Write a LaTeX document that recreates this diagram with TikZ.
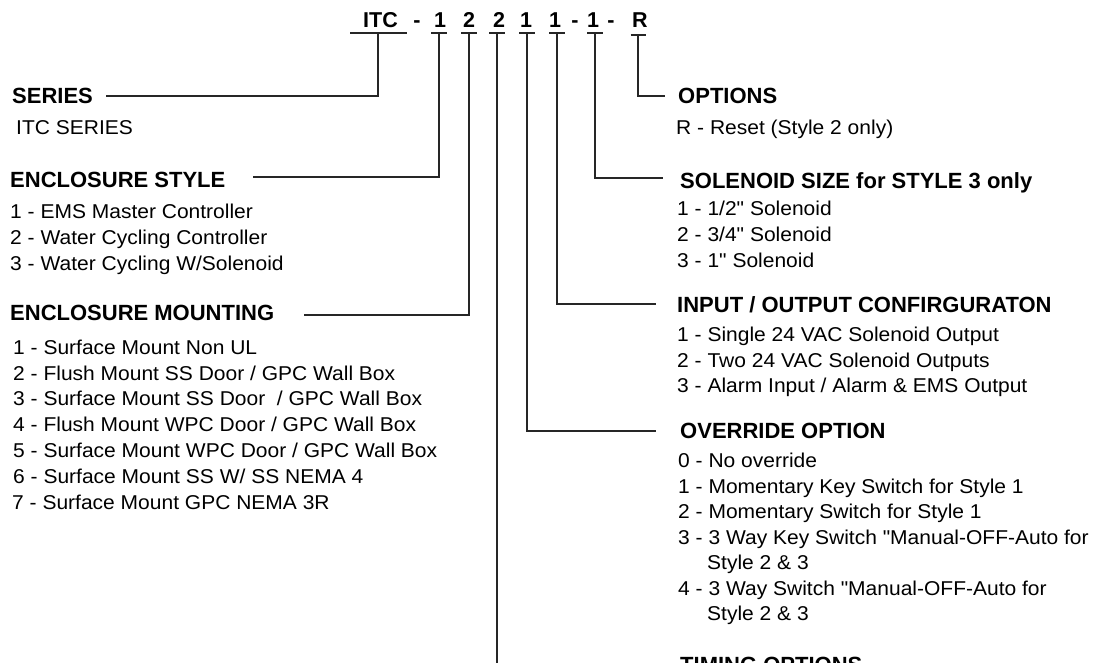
\documentclass[tikz,border=0pt]{standalone}
\usepackage{fontspec}
\setmainfont{Liberation Sans}
\newfontfamily\itemfont[FakeStretch=1.05]{Liberation Sans}
\begin{document}
\begin{tikzpicture}[x=1pt,y=-1pt,
  hdr/.style={anchor=base west, inner sep=0pt, font=\fontsize{22}{26}\selectfont\bfseries},
  itm/.style={anchor=base west, inner sep=0pt, font=\itemfont\fontsize{20}{24}\selectfont},
  code/.style={anchor=base, inner sep=0pt, font=\fontsize{21.5}{26}\selectfont\bfseries},
  conn/.style={line width=1.3pt, draw=black!85},
  bar/.style={line width=1.3pt, draw=black!85}]
\useasboundingbox (0,0) rectangle (1094,662);
\clip (0,0) rectangle (1094,662);

% code line
\node[code] (cITC) at (380.5,27) {ITC};
\node[code] (cd1) at (417,27) {-};
\node[code] (c1) at (440,27) {1};
\node[code] (c2) at (469,27) {2};
\node[code] (c3) at (499,27) {2};
\node[code] (c4) at (526,27) {1};
\node[code] (c5) at (555,27) {1};
\node[code] (cd2) at (575,27) {-};
\node[code] (c6) at (593,27) {1};
\node[code] (cd3) at (611,27) {-};
\node[code] (cR) at (640,27) {R};

% underline anchors
\coordinate (uITC) at (378,33);
\coordinate (u1) at (439,33);
\coordinate (u2) at (469,33);
\coordinate (u3) at (497,33);
\coordinate (u4) at (527,33);
\coordinate (u5) at (557,33);
\coordinate (u6) at (595,33);
\coordinate (uR) at (638,35);

\draw[bar] ([xshift=-28]uITC) -- ([xshift=29]uITC);
\foreach \u in {u1,u2,u3,u4,u5,u6}{
  \draw[bar] ([xshift=-8]\u) -- ([xshift=8]\u);
}
\draw[bar] ([xshift=-7.5]uR) -- ([xshift=7.5]uR);

% connector ends
\coordinate (eSeries) at (106,96);
\coordinate (eStyle) at (253,177);
\coordinate (eMount) at (304,315);
\coordinate (eOpt) at (665,96);
\coordinate (eSol) at (663,178);
\coordinate (eIO) at (656,304);
\coordinate (eOvr) at (656,431);
\coordinate (eTim) at (656,665);

\draw[conn] (uITC) |- (eSeries);
\draw[conn] (u1) |- (eStyle);
\draw[conn] (u2) |- (eMount);
\draw[conn] (u3) |- (eTim);
\draw[conn] (u4) |- (eOvr);
\draw[conn] (u5) |- (eIO);
\draw[conn] (u6) |- (eSol);
\draw[conn] (uR) |- (eOpt);

% left column
\node[hdr] (hSeries) at (12,103) {SERIES};
\node[itm] (iSeries) at (16,134.2) {ITC SERIES};

\node[hdr] (hStyle) at (10,187.9) {ENCLOSURE STYLE};
\node[itm] (s1) at (10,218.2) {1 - EMS Master Controller};
\node[itm] (s2) at (10,244.7) {2 - Water Cycling Controller};
\node[itm] (s3) at (10,270.2) {3 - Water Cycling W/Solenoid};

\node[hdr] (hMount) at (10,320.9) {ENCLOSURE MOUNTING};
\node[itm] (m1) at (13,354.2) {1 - Surface Mount Non UL};
\node[itm] (m2) at (13,380.0) {2 - Flush Mount SS Door / GPC Wall Box};
\node[itm] (m3) at (13,405.8) {3 - Surface Mount SS Door~ / GPC Wall Box};
\node[itm] (m4) at (13,431.6) {4 - Flush Mount WPC Door / GPC Wall Box};
\node[itm] (m5) at (13,457.4) {5 - Surface Mount WPC Door / GPC Wall Box};
\node[itm] (m6) at (13,483.2) {6 - Surface Mount SS W/ SS NEMA 4};
\node[itm] (m7) at (12,509.0) {7 - Surface Mount GPC NEMA 3R};

% right column
\node[hdr] (hOpt) at (678,103.9) {OPTIONS};
\node[itm] (o1) at (676,134.2) {R - Reset (Style 2 only)};

\node[hdr] (hSol) at (680,188.9) {SOLENOID SIZE for STYLE 3 only};
\node[itm] (z1) at (677,215.2) {1 - 1/2" Solenoid};
\node[itm] (z2) at (677,241.2) {2 - 3/4" Solenoid};
\node[itm] (z3) at (677,267.2) {3 - 1" Solenoid};

\node[hdr] (hIO) at (677,312.9) {INPUT / OUTPUT CONFIRGURATON};
\node[itm] (p1) at (677,341.7) {1 - Single 24 VAC Solenoid Output};
\node[itm] (p2) at (677,367.7) {2 - Two 24 VAC Solenoid Outputs};
\node[itm] (p3) at (677,392.7) {3 - Alarm Input / Alarm \& EMS Output};

\node[hdr] (hOvr) at (680,438.9) {OVERRIDE OPTION};
\node[itm] (v0) at (678,467.7) {0 - No override};
\node[itm] (v1) at (678,493.2) {1 - Momentary Key Switch for Style 1};
\node[itm] (v2) at (678,518.7) {2 - Momentary Switch for Style 1};
\node[itm] (v3) at (678,544.2) {3 - 3 Way Key Switch "Manual-OFF-Auto for};
\node[itm] (v3b) at (707,569.7) {Style 2 \& 3};
\node[itm] (v4) at (678,595.2) {4 - 3 Way Switch "Manual-OFF-Auto for};
\node[itm] (v4b) at (707,620.7) {Style 2 \& 3};

\node[hdr] (hTim) at (680,672.9) {TIMING OPTIONS};
\end{tikzpicture}
\end{document}
